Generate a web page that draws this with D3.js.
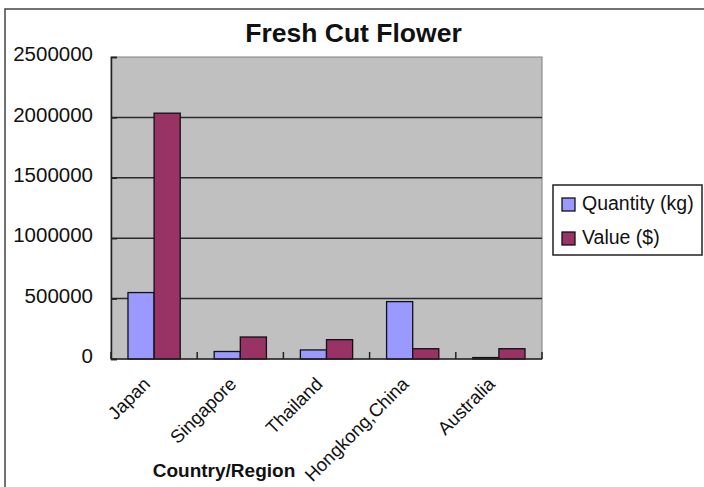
<!DOCTYPE html>
<html>
<head>
<meta charset="utf-8">
<script src="https://cdn.jsdelivr.net/npm/d3@7"></script>
<style>
  html, body { margin: 0; padding: 0; background: #fff; }
  svg { display: block; font-family: "Liberation Sans", Arial, sans-serif; }
</style>
</head>
<body>
<svg id="chart" width="704" height="487"></svg>
<script>
// Fresh cut flower exports by country/region
const categories = ["Japan", "Singapore", "Thailand", "Hongkong,China", "Australia"];
const quantityKg = [550000, 62000, 75000, 475000, 12000];
const valueUsd = [2035000, 182000, 160000, 85000, 85000];
const seriesNames = ["Quantity (kg)", "Value ($)"];
const seriesColors = ["#9999FF", "#993366"];
const yTicks = [0, 500000, 1000000, 1500000, 2000000, 2500000];

const svg = d3.select("#chart");

// Outer chart frame (runs off the right and bottom edges)
svg.append("rect")
  .attr("x", 5).attr("y", 9).attr("width", 720).attr("height", 500)
  .attr("fill", "#fff").attr("stroke", "#444").attr("stroke-width", 1.5);

const plot = { left: 111, top: 57, right: 542, bottom: 359 };

const x0 = d3.scaleBand().domain(categories).range([plot.left, plot.right]).paddingInner(0).paddingOuter(0);
const x1 = d3.scaleBand().domain(seriesNames).range([0, x0.bandwidth()]).paddingInner(0).paddingOuter(0.65);
const y = d3.scaleLinear().domain([0, 2500000]).range([plot.bottom, plot.top]);

// Plot background
svg.append("rect")
  .attr("x", plot.left).attr("y", plot.top)
  .attr("width", plot.right - plot.left).attr("height", plot.bottom - plot.top)
  .attr("fill", "#C0C0C0").attr("stroke", "#808080").attr("stroke-width", 1);

// Horizontal gridlines
svg.append("g").selectAll("line")
  .data(yTicks.filter(t => t > 0 && t < 2500000))
  .join("line")
  .attr("x1", plot.left).attr("x2", plot.right)
  .attr("y1", d => y(d)).attr("y2", d => y(d))
  .attr("stroke", "#2a2a2a").attr("stroke-width", 1.5);

// Bars
const rows = categories.map((c, i) => ({ cat: c, vals: [quantityKg[i], valueUsd[i]] }));
const groups = svg.append("g").selectAll("g")
  .data(rows).join("g")
  .attr("transform", d => `translate(${x0(d.cat)},0)`);
groups.selectAll("rect")
  .data(d => d.vals.map((v, k) => ({ name: seriesNames[k], v, k })))
  .join("rect")
  .attr("x", d => x1(d.name))
  .attr("width", x1.bandwidth())
  .attr("y", d => y(d.v))
  .attr("height", d => y(0) - y(d.v))
  .attr("fill", d => seriesColors[d.k])
  .attr("stroke", "#111").attr("stroke-width", 1.3);

// Y axis with inward ticks
const yAxis = d3.axisLeft(y).tickValues(yTicks).tickSize(-6).tickPadding(18).tickFormat(d3.format("d"));
const yg = svg.append("g").attr("transform", `translate(${plot.left},0)`).call(yAxis);
yg.select(".domain").attr("stroke", "#222").attr("stroke-width", 1.5);
yg.selectAll(".tick line").attr("stroke", "#222").attr("stroke-width", 1.5);
yg.selectAll(".tick text")
  .attr("font-size", "20.5px").attr("fill", "#111")
  .attr("font-family", "Liberation Sans, Arial, sans-serif")
  .attr("dy", "0.18em");

// X axis: ticks between categories, pointing up into the plot
const boundaries = d3.range(categories.length + 1).map(i => plot.left + i * x0.bandwidth());
svg.append("line")
  .attr("x1", plot.left).attr("x2", plot.right)
  .attr("y1", plot.bottom).attr("y2", plot.bottom)
  .attr("stroke", "#222").attr("stroke-width", 1.5);
svg.append("g").selectAll("line")
  .data(boundaries).join("line")
  .attr("x1", d => d).attr("x2", d => d)
  .attr("y1", plot.bottom).attr("y2", plot.bottom - 7)
  .attr("stroke", "#222").attr("stroke-width", 1.5);

// Rotated category labels
svg.append("g").selectAll("text")
  .data(categories).join("text")
  .attr("transform", d => `translate(${x0(d) + x0.bandwidth() / 2 - 12},${plot.bottom + 17}) rotate(-45)`)
  .attr("text-anchor", "end")
  .attr("dy", "0.7em")
  .attr("font-size", "18.5px").attr("fill", "#111")
  .text(d => d);

// Title
svg.append("text")
  .attr("x", 353.5).attr("y", 42)
  .attr("text-anchor", "middle")
  .attr("font-size", "26.5px").attr("font-weight", "bold").attr("fill", "#111")
  .text("Fresh Cut Flower");

// X axis title
svg.append("text")
  .attr("x", 224).attr("y", 477)
  .attr("text-anchor", "middle")
  .attr("font-size", "19px").attr("font-weight", "bold").attr("fill", "#111")
  .text("Country/Region");

// Legend
const lg = svg.append("g");
lg.append("rect")
  .attr("x", 553).attr("y", 185).attr("width", 149).attr("height", 70)
  .attr("fill", "#fff").attr("stroke", "#222").attr("stroke-width", 1.5);
const items = lg.selectAll("g.item")
  .data(seriesNames).join("g")
  .attr("class", "item")
  .attr("transform", (d, i) => `translate(562,${198 + i * 34})`);
items.append("rect")
  .attr("width", 13).attr("height", 13)
  .attr("fill", (d, i) => seriesColors[i])
  .attr("stroke", "#111").attr("stroke-width", 1.3);
items.append("text")
  .attr("x", 20).attr("y", 11.5)
  .attr("font-size", "19.5px").attr("fill", "#111")
  .text(d => d);
</script>
</body>
</html>
